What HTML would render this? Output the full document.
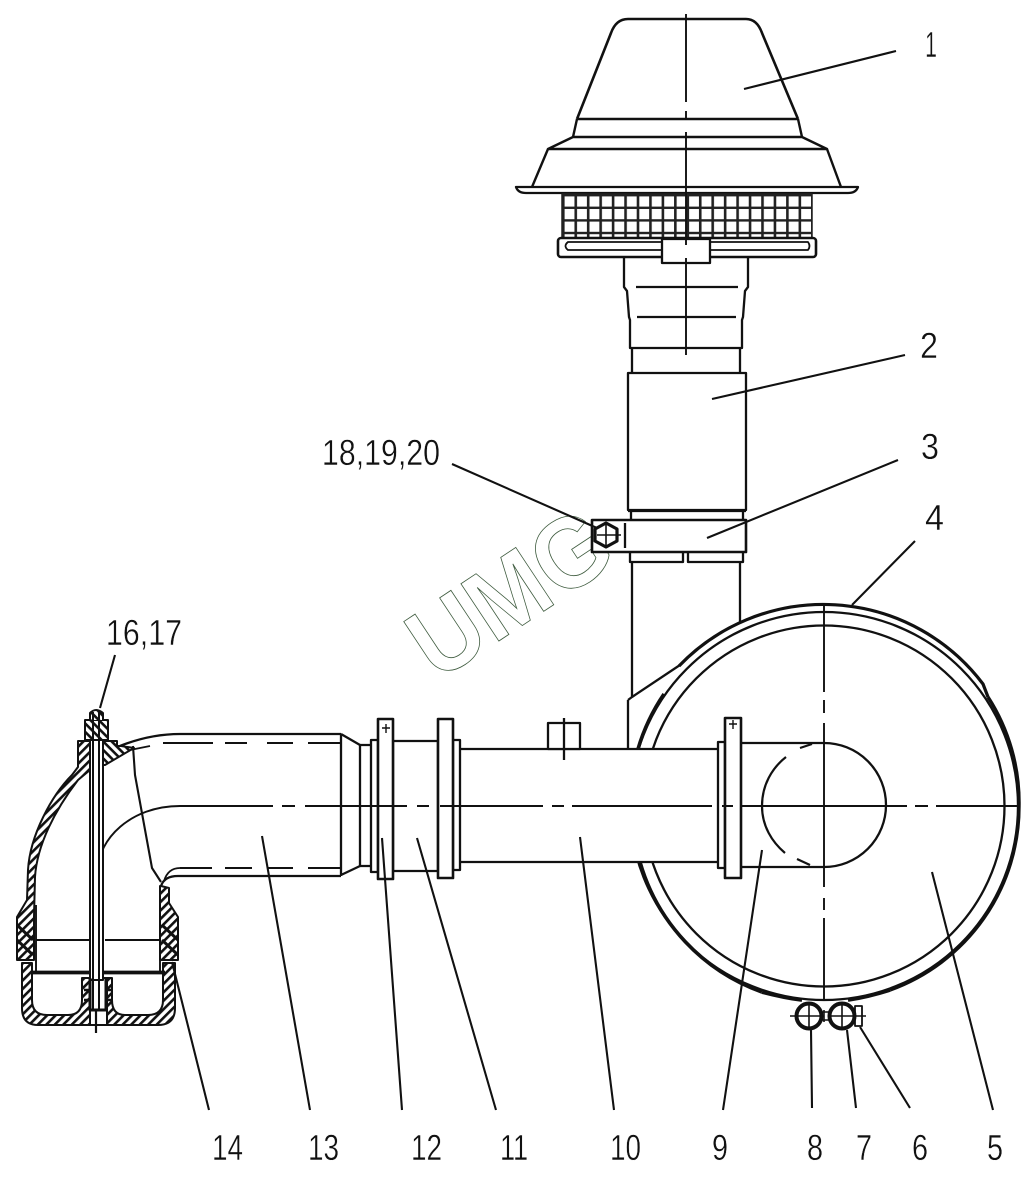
<!DOCTYPE html>
<html><head><meta charset="utf-8"><style>
html,body{margin:0;padding:0;background:#fff}
svg{display:block}
text{font-family:"Liberation Sans",sans-serif;font-size:36px;fill:#111;stroke:#fff;stroke-width:.4px}
</style></head><body>
<svg width="1031" height="1200" viewBox="0 0 1031 1200" xmlns="http://www.w3.org/2000/svg">
<defs>
<pattern id="h" width="6" height="6" patternUnits="userSpaceOnUse" patternTransform="rotate(-45)"><rect width="6" height="6" fill="#fff"/><rect width="6" height="2.6" fill="#111"/></pattern>
<pattern id="h2" width="6" height="6" patternUnits="userSpaceOnUse" patternTransform="rotate(45)"><rect width="6" height="6" fill="#fff"/><rect width="6" height="2.6" fill="#111"/></pattern>
<pattern id="m" x="562" y="194" width="12.45" height="12.6" patternUnits="userSpaceOnUse"><rect width="12.45" height="12.6" fill="#fff"/><rect width="2.6" height="12.6" fill="#222"/><rect y="0" width="12.45" height="2.4" fill="#222"/></pattern>
</defs>

<!-- watermark -->
<text transform="translate(437,682) rotate(-33.5) scale(.97,1.03)" style="font-size:97px;font-weight:bold;fill:none;stroke:#3d5a3d;stroke-width:.8px">UMG</text>

<g fill="none" stroke="#111" stroke-width="2.3" stroke-linejoin="round">
<!-- air cap -->
<path d="M577,119 L611,33 Q616,19 628,19 L746,19 Q757,19 762,33 L798,119" stroke-width="2.6"/>
<path d="M577,119H798M577,119L573,137H802L798,119M573,137L548,149H827L802,137M548,149H827M548,149L532,187M827,149L841,187" stroke-width="2.4"/>
<path d="M516,187H858Q856,193 848,193H526Q518,193 516,187Z" fill="#fff"/>
<rect x="562" y="194" width="250" height="44" fill="url(#m)" stroke="#222" stroke-width="1.5"/>
<rect x="558" y="238" width="258" height="19" rx="3" fill="#fff" stroke-width="2.6"/>
<path d="M568,242H808Q811,246 808,250H568Q563,246 568,242Z" stroke-width="1.8"/>
<rect x="662" y="239" width="48" height="24" fill="#fff"/>
<!-- neck -->
<path d="M624,257V287L627,291L629,317L630,320V348H742V320L743,317L745,291L748,287V257"/>
<path d="M636,287H738M637,317H736" />
<path d="M632,348V373M740,348V373"/>
<rect x="628" y="373" width="118" height="137"/>
<path d="M631,511V520M743,511V520M628,511H746" />
<rect x="592" y="520" width="154" height="32" fill="#fff" stroke-width="2.6"/>
<path d="M625,523V548"/>
<path d="M630,552V562H683V552M688,552V562H743V552"/>
<path d="M632,562V697M740,562V622"/>
<path d="M632,697L680,665M628,700L632,697M628,700V749"/>

<!-- big circle -->
<circle cx="824" cy="806" r="180.5"/>
<circle cx="824" cy="806" r="194"/>
<path d="M679,666A200,200 0 0 1 983,684L988,697" stroke-width="3.2"/>
<path d="M638,749A195,195 0 0 1 664,694" stroke-width="3.6"/>
<path d="M988,697A195,195 0 0 1 1019,806" stroke-width="3.4"/>
<path d="M640,862A195,195 0 0 0 762,992" stroke-width="3.6"/>
<path d="M762,992Q785,998 802,1000" stroke-width="3.8"/>
<path d="M1019,806A195,195 0 0 1 890,990" stroke-width="3.4"/>
<path d="M890,990Q868,997 848,1000" stroke-width="3.8"/>

<!-- main pipe -->
<rect x="460" y="749" width="258" height="113" fill="#fff" stroke="none"/>
<path d="M460,749H718M460,862H718"/>
<rect x="548" y="723" width="32" height="26" fill="#fff"/>
<path d="M564,718V760"/>
<rect x="718" y="742" width="7" height="126" fill="#fff"/>
<rect x="725" y="718" width="16" height="160" fill="#fff" stroke-width="2.6"/>
<path d="M729,724H737M733,720V729" stroke-width="1.4"/>
<path d="M741,743H824A62,62 0 0 1 824,867H741"/>
<path d="M800,748L812,744M786,757C772,768 762,785 762,806C762,826 772,842 785,853M797,859L810,865" stroke-width="2.2"/>

<!-- flanges -->
<rect x="453" y="740" width="7" height="130" fill="#fff"/>
<rect x="393" y="741" width="45" height="130" fill="#fff"/>
<rect x="438" y="719" width="15" height="159" fill="#fff" stroke-width="2.6"/>
<rect x="360" y="745" width="12" height="121" fill="#fff"/>
<rect x="371" y="740" width="7" height="132" fill="#fff"/>
<rect x="378" y="719" width="15" height="160" fill="#fff" stroke-width="2.6"/>
<path d="M382,728H390M386,724V733" stroke-width="1.4"/>

<!-- elbow -->
<path d="M341,734L360,745M341,875L360,866M341,734V876"/>
<path d="M341,734H180C160,734 140,738 120,746M341,876H178C168,876 163,880 161,886" stroke-width="2.3"/>
<path d="M133,746L135,775L152,868L161,882" stroke-width="2.1"/>
<path d="M163,743H213M225,743H247M267,743H293M308,743H341M180,868H212M225,868H252M267,868H293M308,868H341" stroke-width="2"/>
<path d="M150,746L130,750M180,868Q168,868 164,881" stroke-width="1.8"/>
<path d="M180,806C130,806 98,840 98,870" stroke-width="1.9"/>
<path d="M180,806H273M282,806H295M305,806H407M417,806H429M440,806H543M552,806H564M572,806H712M722,806H733M742,806H907M915,806H928M936,806H1019" stroke-width="2"/>

<!-- housing section -->
<g stroke-width="2">
<path d="M78,741V767L72,775C52,795 30,835 28,870L27,900L17,917V960H34V917L35,877C37,845 55,810 78,780L90,770V741Z" fill="url(#h)"/>
<path d="M103,741H117V746H121L134,748L105,765H103Z" fill="url(#h2)"/>
<path d="M161,886L169,888V903L178,917V960H160V886Z" fill="url(#h)"/>
<path d="M17,925L33,940M17,940L33,955M162,925L178,940M162,940L178,955" stroke-width="3"/>
<path d="M22,963V1008Q22,1025 38,1025H158Q175,1025 175,1008V963H163V1000Q163,1015 148,1015H125Q112,1015 112,1000V978H82V1000Q82,1015 68,1015H47Q32,1015 32,1000V963Z" fill="url(#h)"/>
<path d="M36,940H90M105,940H160" />
<path d="M32,972.5H165" stroke-width="3.8"/>
<path d="M36,905V972M160,905V972" stroke-width="1.9"/>
<rect x="90" y="978" width="17" height="47" fill="#fff"/>
<rect x="85" y="720" width="23" height="20" fill="url(#h2)"/>
<path d="M90,720V713Q96,707 103,713V720" fill="url(#h2)"/>
<rect x="90" y="740" width="13" height="240" fill="#fff"/>
<path d="M93,712V1010M99,712V1010"/>
<path d="M96,1010V1033" stroke-width="2.2"/>
<path d="M90,978V1010H106V978" stroke-width="3"/>
<path d="M84,990H89M84,1000H89M107,990H112M107,1000H112" stroke-width="2.4"/>
</g>

<!-- centre lines -->
<path d="M686,14V102M686,111V120M686,132V245M686,258V355" stroke-width="1.9"/>
<path d="M824,605V692M824,700V713M824,723V887M824,898V910M824,918V1000" stroke-width="1.9"/>

<!-- hex bolt -->
<path d="M606,523L617,529V541L606,547L595,541V529Z" fill="#fff" stroke-width="3.2"/>
<path d="M597,535H621M606,524V546" stroke-width="1.6"/>

<!-- bottom clamp -->
<circle cx="809" cy="1016" r="12.5" fill="#fff" stroke-width="4"/>
<circle cx="842" cy="1016" r="12.5" fill="#fff" stroke-width="4"/>
<path d="M790,1016H821M809,1005V1027M830,1016H866M842,1005V1027" stroke-width="1.6"/>
<path d="M821,1012H830M821,1020H830M824,1010V1022" stroke-width="1.6"/>
<rect x="855" y="1006" width="7" height="20" stroke-width="1.8"/>

<!-- leaders -->
<g stroke-width="2.1">
<path d="M744,89L896,51M712,399L905,355M707,538L898,460M452,464L597,528M852,605L915,541M100,708L115,655"/>
<path d="M172,962L209,1110M262,836L310,1110M382,838L402,1110M417,838L496,1110M580,837L614,1110M762,850L723,1110M811,1030L812,1108M847,1030L856,1108M860,1027L910,1108M932,872L993,1110"/>
</g>
</g>

<!-- labels -->
<text x="925" y="57" textLength="12" lengthAdjust="spacingAndGlyphs">1</text>
<text x="920" y="358" textLength="18" lengthAdjust="spacingAndGlyphs">2</text>
<text x="921" y="459" textLength="18" lengthAdjust="spacingAndGlyphs">3</text>
<text x="925" y="530" textLength="19" lengthAdjust="spacingAndGlyphs">4</text>
<text x="322" y="465" textLength="118" lengthAdjust="spacingAndGlyphs">18,19,20</text>
<text x="106" y="645" textLength="76" lengthAdjust="spacingAndGlyphs">16,17</text>
<text x="212" y="1160" textLength="31" lengthAdjust="spacingAndGlyphs">14</text>
<text x="308" y="1160" textLength="31" lengthAdjust="spacingAndGlyphs">13</text>
<text x="411" y="1160" textLength="31" lengthAdjust="spacingAndGlyphs">12</text>
<text x="500" y="1160" textLength="28" lengthAdjust="spacingAndGlyphs">11</text>
<text x="610" y="1160" textLength="31" lengthAdjust="spacingAndGlyphs">10</text>
<text x="712" y="1160" textLength="16" lengthAdjust="spacingAndGlyphs">9</text>
<text x="807" y="1160" textLength="16" lengthAdjust="spacingAndGlyphs">8</text>
<text x="856" y="1160" textLength="16" lengthAdjust="spacingAndGlyphs">7</text>
<text x="912" y="1160" textLength="16" lengthAdjust="spacingAndGlyphs">6</text>
<text x="987" y="1160" textLength="16" lengthAdjust="spacingAndGlyphs">5</text>
</svg>
</body></html>
